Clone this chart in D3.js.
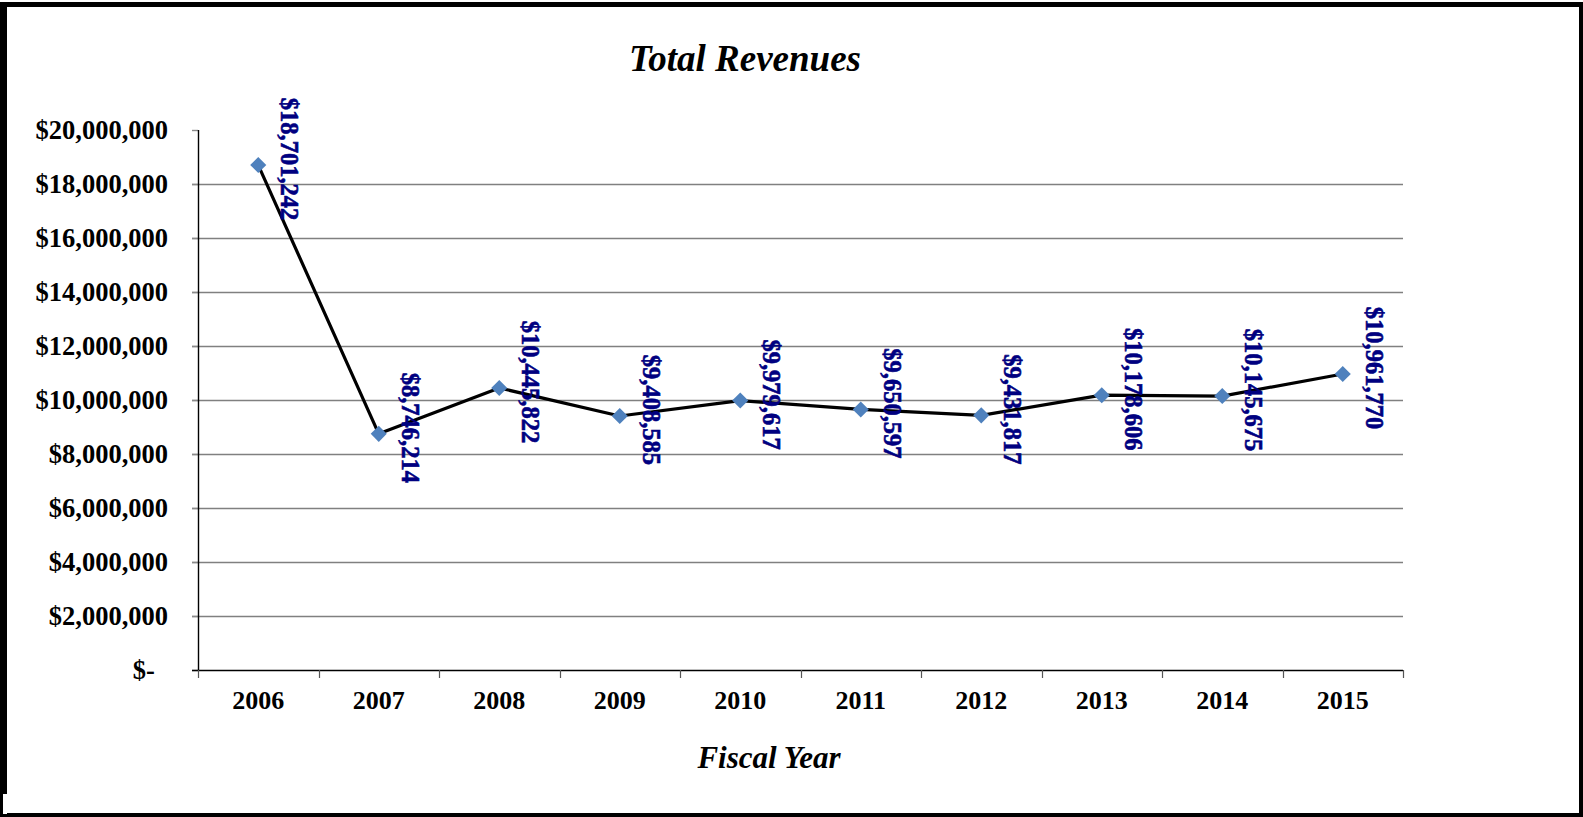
<!DOCTYPE html>
<html>
<head>
<meta charset="utf-8">
<script src="https://cdn.jsdelivr.net/npm/d3@7"></script>
<style>
  html, body { margin: 0; padding: 0; background: #fff; }
  svg { display: block; }
  text { font-family: "Liberation Serif", "Times New Roman", serif; font-weight: bold; }
</style>
</head>
<body>
<svg id="chart" width="1583" height="817"></svg>
<script>
// ---- data ----
const years = ["2006", "2007", "2008", "2009", "2010", "2011", "2012", "2013", "2014", "2015"];
const revenues = [18701242, 8746214, 10445822, 9408585, 9979617, 9650597, 9431817, 10178606, 10145675, 10961770];
const yTicks = [0, 2000000, 4000000, 6000000, 8000000, 10000000, 12000000, 14000000, 16000000, 18000000, 20000000];
const titleText = "Total Revenues";
const xTitleText = "Fiscal Year";

(function () {
const W = 1583, H = 817;
const svg = d3.select("#chart");
const serif = "'Liberation Serif', 'Times New Roman', serif";

// frame
svg.append("rect").attr("x", 0).attr("y", 2).attr("width", W).attr("height", H - 2).attr("fill", "#000");
svg.append("rect").attr("x", 7).attr("y", 7).attr("width", W - 11).attr("height", H - 11).attr("fill", "#fff");
svg.append("rect").attr("x", 3).attr("y", 794).attr("width", 4).attr("height", 20).attr("fill", "#fff");

const pLeft = 198, pRight = 1403, pTop = 130, pBottom = 670;

const x = d3.scaleBand().domain(years).range([pLeft, pRight]).padding(0);
const y = d3.scaleLinear().domain([0, 20000000]).range([pBottom, pTop]);

const fmt = d => d === 0 ? "$-" : "$" + d3.format(",")(d);

// gridlines
svg.append("g").selectAll("line")
  .data(yTicks.filter(d => d > 0 && d < 20000000))
  .join("line")
  .attr("x1", pLeft - 6).attr("x2", pRight)
  .attr("y1", d => Math.round(y(d)) + 0.5).attr("y2", d => Math.round(y(d)) + 0.5)
  .attr("stroke", "#808080").attr("stroke-width", 1.4);

// y axis (ticks + labels)
const yAxis = svg.append("g")
  .attr("transform", `translate(${pLeft},0)`)
  .call(d3.axisLeft(y).tickValues(yTicks).tickFormat(fmt).tickSize(6).tickPadding(24));
yAxis.select(".domain").remove();
yAxis.selectAll(".tick line").attr("stroke", "#8a8a8a").attr("stroke-width", 1.4);
yAxis.selectAll(".tick text")
  .attr("font-size", 26.5).attr("fill", "#000")
  .style("font-family", serif).style("font-weight", "bold")
  .attr("dx", d => d === 0 ? "-0.5em" : 0);

// y axis line
svg.append("line").attr("x1", pLeft + 0.5).attr("x2", pLeft + 0.5)
  .attr("y1", pTop).attr("y2", pBottom).attr("stroke", "#000").attr("stroke-width", 1.4);

// x axis
const xAxis = svg.append("g")
  .attr("transform", `translate(0,${pBottom})`)
  .call(d3.axisBottom(x).tickSize(0).tickPadding(21));
xAxis.select(".domain").remove();
xAxis.selectAll(".tick text")
  .attr("font-size", 26).attr("fill", "#000")
  .style("font-family", serif).style("font-weight", "bold");

svg.append("line").attr("x1", pLeft - 6).attr("x2", pRight)
  .attr("y1", pBottom + 0.5).attr("y2", pBottom + 0.5).attr("stroke", "#000").attr("stroke-width", 1.4);

const bounds = years.map(d => x(d)).concat([x(years[years.length - 1]) + x.bandwidth()]);
svg.append("g").selectAll("line").data(bounds).join("line")
  .attr("x1", d => Math.round(d) + 0.5).attr("x2", d => Math.round(d) + 0.5)
  .attr("y1", pBottom).attr("y2", pBottom + 8)
  .attr("stroke", "#555").attr("stroke-width", 1.2);

// line
const cx = (d, i) => x(years[i]) + x.bandwidth() / 2;
const line = d3.line().x((d, i) => cx(d, i)).y(d => y(d));
svg.append("path").datum(revenues)
  .attr("d", line).attr("fill", "none").attr("stroke", "#000").attr("stroke-width", 3.2)
  .attr("stroke-linejoin", "round");

// markers
svg.append("g").selectAll("path").data(revenues).join("path")
  .attr("transform", (d, i) => `translate(${cx(d, i)},${y(d)})`)
  .attr("d", d3.symbol().type(d3.symbolDiamond2).size(165))
  .attr("fill", "#4F81BD");

// data labels
svg.append("g").selectAll("text").data(revenues).join("text")
  .attr("transform", (d, i) => `translate(${cx(d, i) + 23},${y(d) - 6}) rotate(90)`)
  .attr("text-anchor", "middle")
  .style("font-family", serif).style("font-weight", "bold")
  .attr("font-size", 24.5)
  .attr("fill", "#000080")
  .attr("stroke", "#000080").attr("stroke-width", 0.6)
  .text(d => "$" + d3.format(",")(d));

// titles
svg.append("text").attr("x", 745).attr("y", 71).attr("text-anchor", "middle")
  .style("font-family", serif).style("font-weight", "bold").style("font-style", "italic")
  .attr("font-size", 37).text(titleText);
svg.append("text").attr("x", 769).attr("y", 768).attr("text-anchor", "middle")
  .style("font-family", serif).style("font-weight", "bold").style("font-style", "italic")
  .attr("font-size", 31).text(xTitleText);
})();
</script>
</body>
</html>
